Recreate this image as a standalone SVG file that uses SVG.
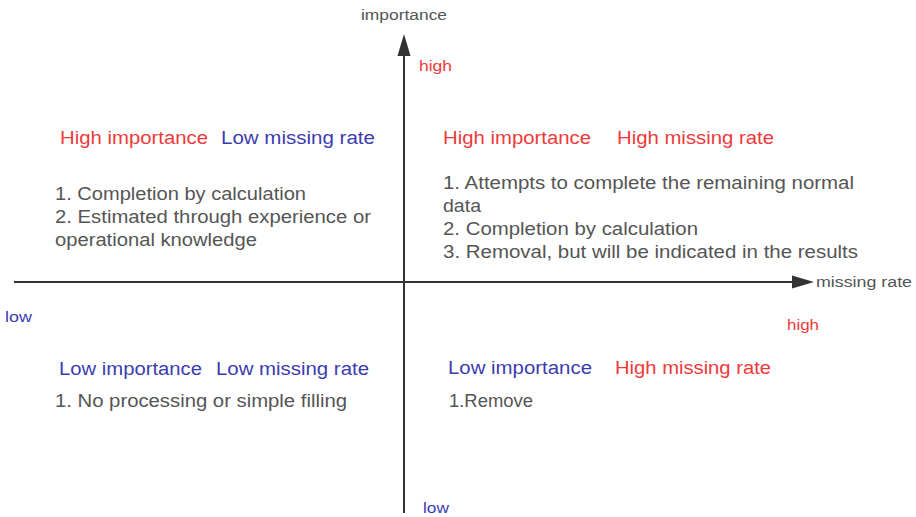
<svg xmlns="http://www.w3.org/2000/svg" width="916" height="517" viewBox="0 0 916 517">
  <style>
    text { font-family: "Liberation Sans", Arial, sans-serif; }
    .axis { stroke: #333; stroke-width: 2; fill: none; }
    .head { fill: #333; }
    .lbl { font-size: 15.5px; fill: #555; }
    .h { font-size: 18px; }
    .body { font-size: 17.5px; fill: #555; }
    .red { fill: #ee3a3a; }
    .blue { fill: #3c3cae; }
  </style>

  <!-- axes -->
  <g id="connectors">
    <line class="axis" x1="404" y1="54" x2="404" y2="513"/>
    <polygon class="head" points="404,34 397.5,56 410.5,56"/>
    <line class="axis" x1="14" y1="282" x2="795" y2="282"/>
    <polygon class="head" points="814,282 792,275.5 792,288.5"/>
  </g>

  <!-- axis labels -->
  <g id="axis-labels">
    <text class="lbl" x="361" y="20" textLength="86" lengthAdjust="spacingAndGlyphs">importance</text>
    <text class="lbl red" x="419" y="71" textLength="33" lengthAdjust="spacingAndGlyphs">high</text>
    <text class="lbl" x="816" y="287" textLength="96" lengthAdjust="spacingAndGlyphs">missing rate</text>
    <text class="lbl red" x="787" y="330" textLength="32" lengthAdjust="spacingAndGlyphs">high</text>
    <text class="lbl blue" x="5" y="322" textLength="27" lengthAdjust="spacingAndGlyphs">low</text>
    <text class="lbl blue" x="423" y="513" textLength="26" lengthAdjust="spacingAndGlyphs">low</text>
  </g>

  <!-- top-left quadrant -->
  <g id="q-high-importance-low-missing">
    <text class="h red" x="60" y="144" textLength="148" lengthAdjust="spacingAndGlyphs">High importance</text>
    <text class="h blue" x="221" y="144" textLength="154" lengthAdjust="spacingAndGlyphs">Low missing rate</text>
    <text class="body" x="55" y="200" textLength="251" lengthAdjust="spacingAndGlyphs">1. Completion by calculation</text>
    <text class="body" x="55" y="223" textLength="316" lengthAdjust="spacingAndGlyphs">2. Estimated through experience or</text>
    <text class="body" x="55" y="246" textLength="202" lengthAdjust="spacingAndGlyphs">operational knowledge</text>
  </g>

  <!-- top-right quadrant -->
  <g id="q-high-importance-high-missing">
    <text class="h red" x="443" y="144" textLength="148" lengthAdjust="spacingAndGlyphs">High importance</text>
    <text class="h red" x="617" y="144" textLength="157" lengthAdjust="spacingAndGlyphs">High missing rate</text>
    <text class="body" x="443" y="189" textLength="411" lengthAdjust="spacingAndGlyphs">1. Attempts to complete the remaining normal</text>
    <text class="body" x="443" y="212" textLength="38" lengthAdjust="spacingAndGlyphs">data</text>
    <text class="body" x="443" y="235" textLength="255" lengthAdjust="spacingAndGlyphs">2. Completion by calculation</text>
    <text class="body" x="443" y="258" textLength="415" lengthAdjust="spacingAndGlyphs">3. Removal, but will be indicated in the results</text>
  </g>

  <!-- bottom-left quadrant -->
  <g id="q-low-importance-low-missing">
    <text class="h blue" x="59" y="375" textLength="143" lengthAdjust="spacingAndGlyphs">Low importance</text>
    <text class="h blue" x="216" y="375" textLength="153" lengthAdjust="spacingAndGlyphs">Low missing rate</text>
    <text class="body" x="55" y="407" textLength="292" lengthAdjust="spacingAndGlyphs">1. No processing or simple filling</text>
  </g>

  <!-- bottom-right quadrant -->
  <g id="q-low-importance-high-missing">
    <text class="h blue" x="448" y="374" textLength="144" lengthAdjust="spacingAndGlyphs">Low importance</text>
    <text class="h red" x="615" y="374" textLength="156" lengthAdjust="spacingAndGlyphs">High missing rate</text>
    <text class="body" x="449" y="407" textLength="84" lengthAdjust="spacingAndGlyphs">1.Remove</text>
  </g>
</svg>
